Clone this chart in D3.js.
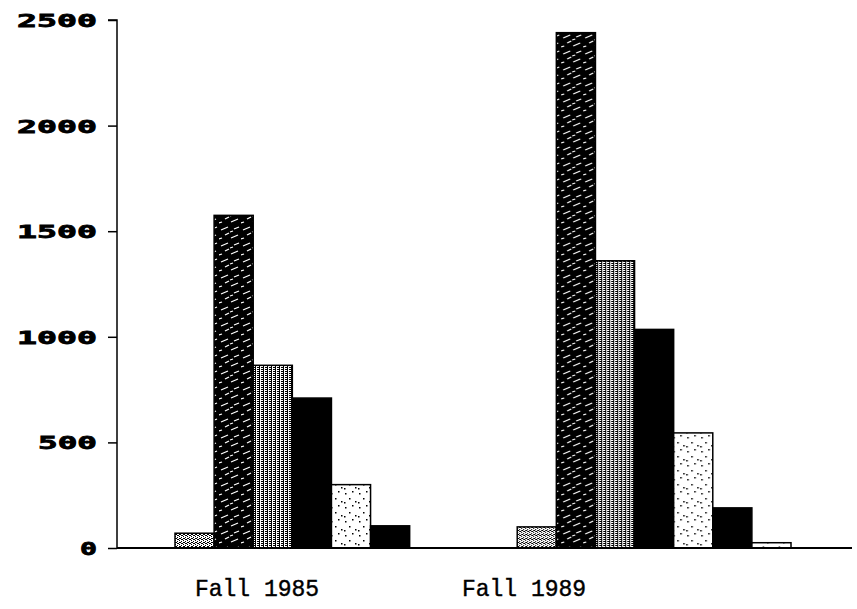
<!DOCTYPE html>
<html>
<head>
<meta charset="utf-8">
<script src="https://cdn.jsdelivr.net/npm/d3@7"></script>
<style>
  html, body { margin: 0; padding: 0; background: #fff; }
  svg { display: block; }
</style>
</head>
<body>
<svg id="chart" width="857" height="609"></svg>
<script>
// ---- data ----
const groups = ["Fall 1985", "Fall 1989"];
const seriesNames = ["s1", "s2", "s3", "s4", "s5", "s6", "s7"];
const fall1985 = [70, 1575, 865, 710, 300, 105, 0];
const fall1989 = [100, 2440, 1360, 1035, 545, 190, 25];
const yTicks = [0, 500, 1000, 1500, 2000, 2500];

const values = { "Fall 1985": fall1985, "Fall 1989": fall1989 };

// ---- layout ----
const axisX = 117, baseY = 548, topY = 20;
const svg = d3.select("#chart");

const y = d3.scaleLinear().domain([0, 2500]).range([baseY, topY]);
const x0 = d3.scaleBand().domain(groups).range([175, 791]).paddingInner(0.2).paddingOuter(0);
const x1 = d3.scaleBand().domain(seriesNames).range([0, x0.bandwidth()]).padding(0);
const labelX = d3.scalePoint().domain(groups).range([257, 524]);

// ---- patterns ----
const defs = svg.append("defs");
function pat(id, w, h, bg) {
  const p = defs.append("pattern").attr("id", id).attr("patternUnits", "userSpaceOnUse")
    .attr("width", w).attr("height", h);
  p.append("rect").attr("width", w).attr("height", h).attr("fill", bg);
  return p;
}
// s1: light stipple
{
  const p = pat("p1", 4, 4, "#fff");
  [[0,0],[2,1],[1,2],[3,3],[2,3],[0,2]].forEach(([a,b]) => p.append("rect").attr("x", a).attr("y", b).attr("width", 1).attr("height", 1).attr("fill", "#000"));
}
// s2: black with white diagonal dashes
{
  const p = pat("p2", 22, 16, "#000");
  [[2,6,9,3],[12,14,19,11],[6,11,10,9],[15,5,20,3],[0,15,3,14],[11,8,14,7]].forEach(([a,b,c,d]) =>
    p.append("line").attr("x1", a).attr("y1", b).attr("x2", c).attr("y2", d)
      .attr("stroke", "#fff").attr("stroke-width", 1.3));
}
// s3: medium grid stipple
{
  const p = pat("p3", 4, 4, "#fff");
  p.append("rect").attr("x", 0).attr("y", 0).attr("width", 1).attr("height", 4).attr("fill", "#000");
  p.append("rect").attr("x", 2).attr("y", 1).attr("width", 2).attr("height", 1).attr("fill", "#000");
  p.append("rect").attr("x", 2).attr("y", 3).attr("width", 2).attr("height", 1).attr("fill", "#000");
}
// s5: very light sparse dots
{
  const p = pat("p5", 14, 14, "#fff");
  [[2,3],[9,1],[6,8],[12,11],[1,12]].forEach(([a,b]) => p.append("rect").attr("x", a).attr("y", b).attr("width", 1.5).attr("height", 1.5).attr("fill", "#000"));
}
// s7: white with black dashes
{
  const p = pat("p7", 16, 8, "#fff");
  p.append("line").attr("x1", 2).attr("y1", 5).attr("x2", 7).attr("y2", 3).attr("stroke", "#000").attr("stroke-width", 1.5);
  p.append("line").attr("x1", 10).attr("y1", 7).attr("x2", 14).attr("y2", 5).attr("stroke", "#000").attr("stroke-width", 1.5);
}
const fills = { s1: "url(#p1)", s2: "url(#p2)", s3: "url(#p3)", s4: "#000", s5: "url(#p5)", s6: "#000", s7: "url(#p7)" };

// ---- bars ----
const g = svg.append("g");
groups.forEach(grp => {
  const gg = g.append("g").attr("transform", `translate(${x0(grp)},0)`);
  gg.selectAll("rect")
    .data(seriesNames.map((s, i) => ({ s, v: values[grp][i] })).filter(d => d.v > 0))
    .join("rect")
    .attr("x", d => x1(d.s))
    .attr("y", d => y(d.v))
    .attr("width", x1.bandwidth())
    .attr("height", d => baseY - y(d.v))
    .attr("fill", d => fills[d.s])
    .attr("stroke", "#000")
    .attr("stroke-width", 1.5);
});

// ---- y axis ----
const yAxis = d3.axisLeft(y).tickValues(yTicks).tickSize(9).tickPadding(11).tickFormat(d3.format("d"));
const ya = svg.append("g").attr("transform", `translate(${axisX},0)`).call(yAxis);
ya.select(".domain").attr("stroke", "#000").attr("stroke-width", 1.5).attr("d", `M-9,${topY}H0V${baseY}`);
ya.selectAll(".tick line").attr("stroke", "#000").attr("stroke-width", 1.5);
ya.selectAll(".tick text")
  .attr("font-family", "'DejaVu Sans Mono', monospace")
  .attr("font-weight", "bold")
  .attr("font-size", 18)
  .attr("fill", "#000")
  .attr("stroke", "#000")
  .attr("stroke-width", 0.8)
  .attr("x", -20)
  .attr("dy", "0.36em")
  .each(function(d) {
    const n = String(d).length;
    d3.select(this).attr("textLength", n * 21 - 4).attr("lengthAdjust", "spacingAndGlyphs");
  });

// ---- baseline ----
svg.append("line").attr("x1", axisX).attr("x2", 852).attr("y1", baseY).attr("y2", baseY)
  .attr("stroke", "#000").attr("stroke-width", 2);

// ---- x labels ----
svg.selectAll(".xlab").data(groups).join("text")
  .attr("class", "xlab")
  .attr("x", d => labelX(d))
  .attr("y", 596)
  .attr("text-anchor", "middle")
  .attr("font-family", "'Liberation Mono', 'Courier New', monospace")
  .attr("font-size", 23)
  .attr("fill", "#000")
  .attr("stroke", "#000")
  .attr("stroke-width", 0.4)
  .text(d => d);
</script>
</body>
</html>
